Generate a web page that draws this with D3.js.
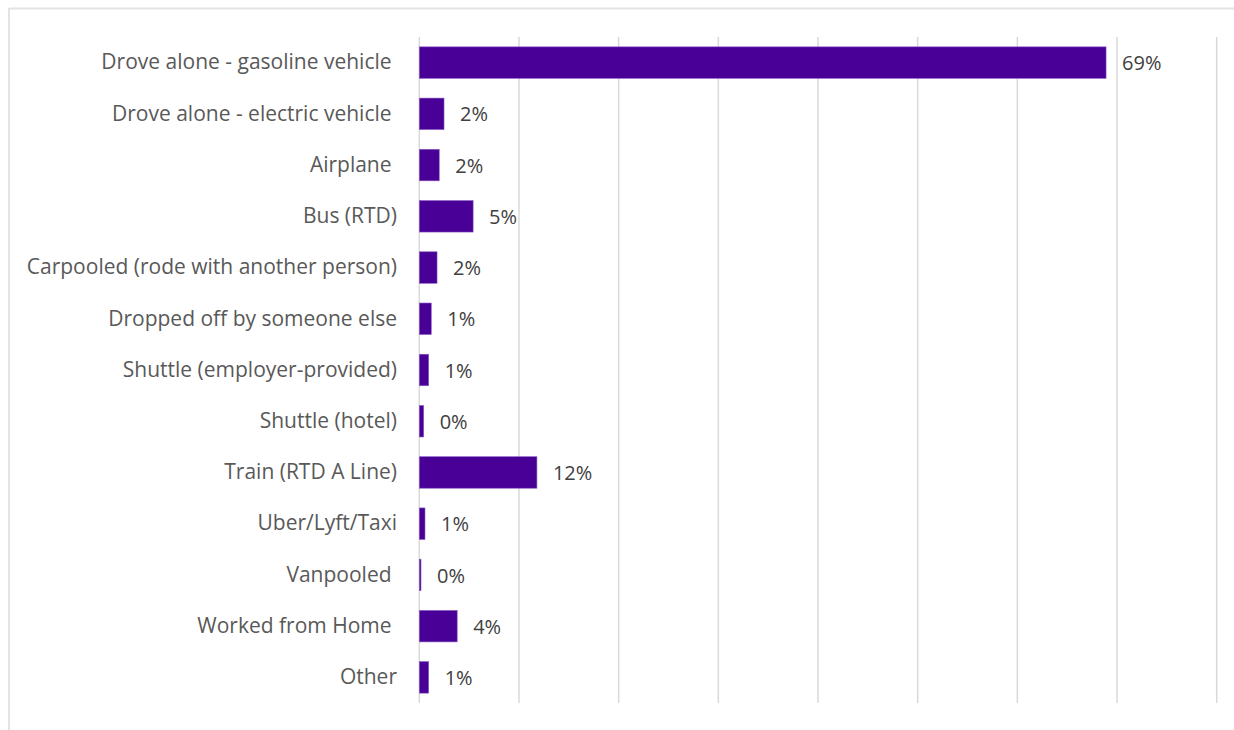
<!DOCTYPE html>
<html>
<head>
<meta charset="utf-8">
<script src="https://cdn.jsdelivr.net/npm/d3@7"></script>
<style>
  html, body { margin: 0; padding: 0; background: #fff; }
  svg text { white-space: pre; }
</style>
</head>
<body>
<svg id="chart" width="1234" height="730"></svg>
<script>
// Commute mode shares (percent of respondents)
const categories = [
  "Drove alone - gasoline vehicle ",
  "Drove alone - electric vehicle ",
  "Airplane ",
  "Bus (RTD)",
  "Carpooled (rode with another person)",
  "Dropped off by someone else",
  "Shuttle (employer-provided)",
  "Shuttle (hotel)",
  "Train (RTD A Line)",
  "Uber/Lyft/Taxi",
  "Vanpooled ",
  "Worked from Home ",
  "Other"
];
const shares = [68.9, 2.48, 2.0, 5.4, 1.78, 1.2, 0.94, 0.44, 11.8, 0.57, 0.17, 3.8, 0.94];
const gridTicks = [0, 10, 20, 30, 40, 50, 60, 70, 80];

const svg = d3.select("#chart");
const W = 1234, H = 730;
const plot = { left: 419.3, right: 1216.7, top: 37, bottom: 703 };
const font = "'Open Sans', sans-serif";

// outer frame (top and left edges visible)
svg.append("line").attr("x1", 9).attr("x2", W).attr("y1", 8.5).attr("y2", 8.5)
  .attr("stroke", "#e3e3e3").attr("stroke-width", 2);
svg.append("line").attr("x1", 9).attr("x2", 9).attr("y1", 8).attr("y2", H)
  .attr("stroke", "#e3e3e3").attr("stroke-width", 2);

const x = d3.scaleLinear().domain([0, 80]).range([plot.left, plot.right]);
const y = d3.scaleBand().domain(categories).range([plot.top, plot.bottom])
  .paddingInner(0.385).paddingOuter(0.1925);

// vertical gridlines
svg.append("g").selectAll("line").data(gridTicks).join("line")
  .attr("x1", d => x(d)).attr("x2", d => x(d))
  .attr("y1", plot.top).attr("y2", plot.bottom)
  .attr("stroke", "#d9d9d9").attr("stroke-width", 1.5);

// bars
svg.append("g").selectAll("rect").data(categories).join("rect")
  .attr("x", x(0))
  .attr("y", d => y(d))
  .attr("width", (d, i) => x(shares[i]) - x(0))
  .attr("height", y.bandwidth())
  .attr("fill", "#480096")
  .attr("stroke", "#8a5cc4").attr("stroke-width", 0.6);

// category labels
const yAxis = d3.axisLeft(y).tickSize(0).tickPadding(0);
const ya = svg.append("g").attr("transform", `translate(397,0)`).call(yAxis);
ya.select(".domain").remove();
ya.selectAll("text")
  .attr("font-family", font).attr("font-size", 21).attr("fill", "#595959")
  .attr("dy", "0.32em");

// value labels
svg.append("g").selectAll("text").data(categories).join("text")
  .attr("x", (d, i) => x(shares[i]) + 16)
  .attr("y", d => y(d) + y.bandwidth() / 2)
  .attr("dy", "0.38em")
  .attr("font-family", font).attr("font-size", 20).attr("fill", "#404040")
  .text((d, i) => Math.round(shares[i]) + "%");
</script>
</body>
</html>
